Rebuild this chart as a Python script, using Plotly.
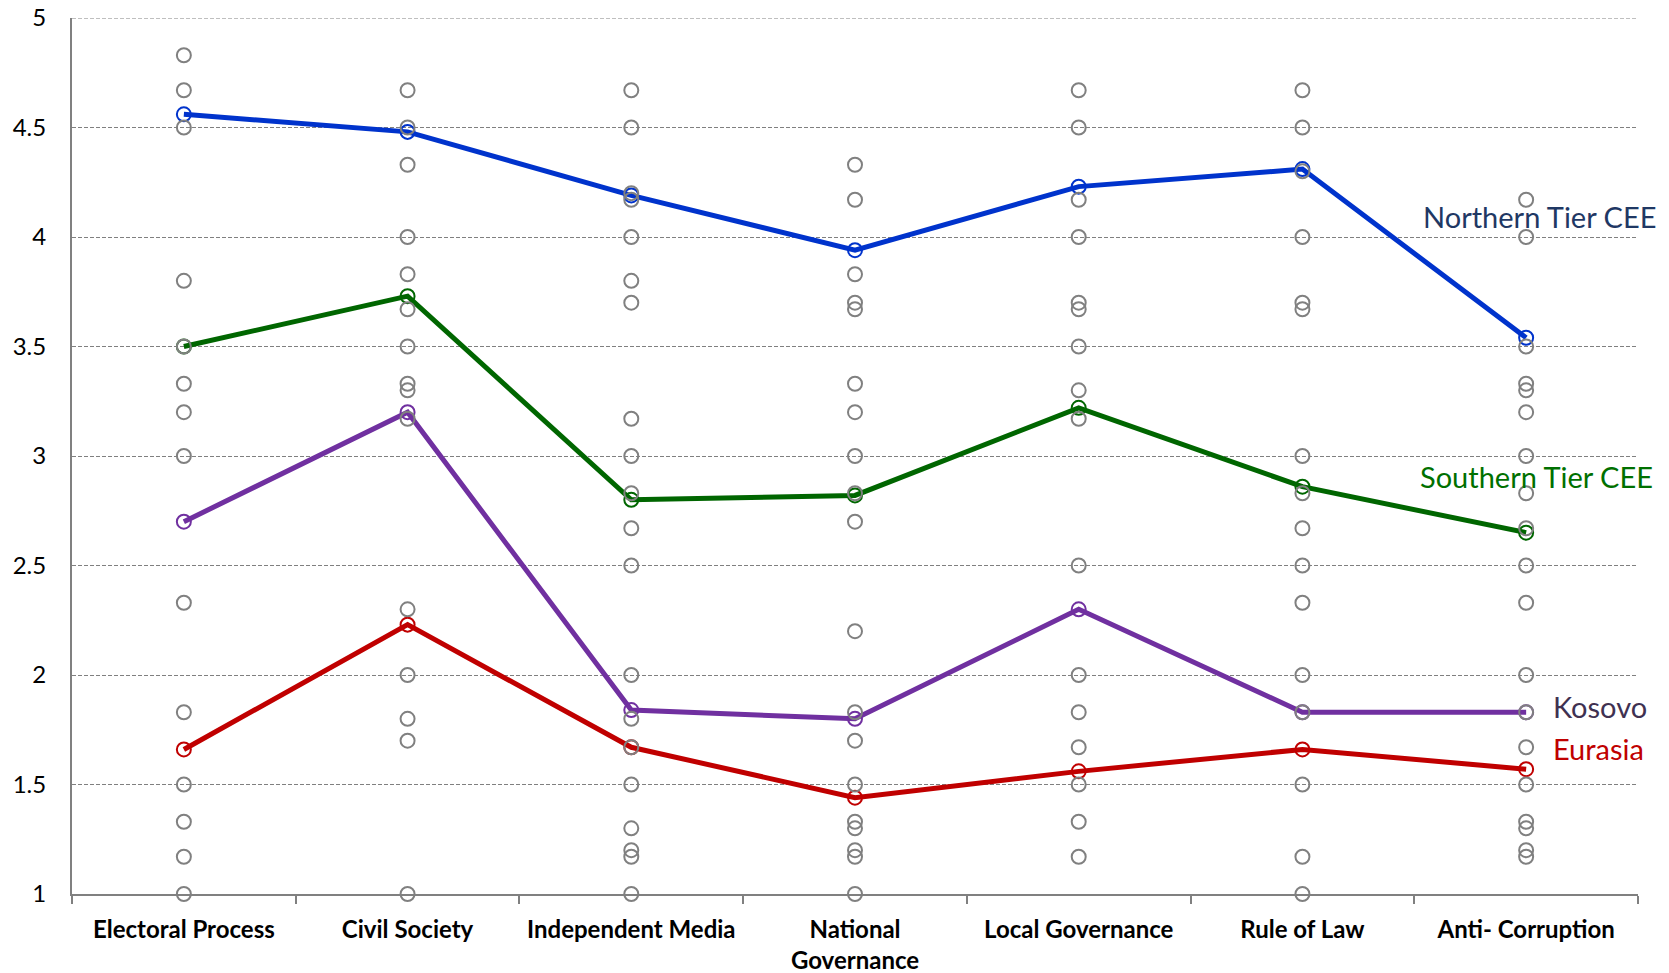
import plotly.graph_objects as go

categories = ["Electoral Process", "Civil Society", "Independent Media",
              "National<br>Governance", "Local Governance", "Rule of Law", "Anti- Corruption"]

# Individual country scores (gray open circles), per category
gray_electoral = [4.83, 4.67, 4.5, 3.8, 3.5, 3.33, 3.2, 3.0, 2.33, 1.83, 1.5, 1.33, 1.17, 1.0]
gray_civil = [4.67, 4.5, 4.33, 4.0, 3.83, 3.67, 3.5, 3.33, 3.3, 3.17, 2.3, 2.0, 1.8, 1.7, 1.0]
gray_media = [4.67, 4.5, 4.2, 4.17, 4.0, 3.8, 3.7, 3.17, 3.0, 2.83, 2.67, 2.5, 2.0, 1.8, 1.67,
              1.5, 1.3, 1.2, 1.17, 1.0]
gray_national = [4.33, 4.17, 3.83, 3.7, 3.67, 3.33, 3.2, 3.0, 2.83, 2.7, 2.2, 1.83, 1.7, 1.5,
                 1.33, 1.3, 1.2, 1.17, 1.0]
gray_local = [4.67, 4.5, 4.17, 4.0, 3.7, 3.67, 3.5, 3.3, 3.17, 2.5, 2.0, 1.83, 1.67, 1.5, 1.33, 1.17]
gray_law = [4.67, 4.5, 4.3, 4.0, 3.7, 3.67, 3.0, 2.83, 2.67, 2.5, 2.33, 2.0, 1.83, 1.5, 1.17, 1.0]
gray_anticorr = [4.17, 4.0, 3.5, 3.33, 3.3, 3.2, 3.0, 2.83, 2.67, 2.5, 2.33, 2.0, 1.83, 1.67, 1.5,
                 1.33, 1.3, 1.2, 1.17]

# Group averages
northern = [4.56, 4.48, 4.19, 3.94, 4.23, 4.31, 3.54]
southern = [3.50, 3.73, 2.80, 2.82, 3.22, 2.86, 2.65]
kosovo = [2.70, 3.20, 1.84, 1.80, 2.30, 1.83, 1.83]
eurasia = [1.66, 2.23, 1.67, 1.44, 1.56, 1.66, 1.57]

y_ticks = [1, 1.5, 2, 2.5, 3, 3.5, 4, 4.5, 5]
y_tick_text = ["1", "1.5", "2", "2.5", "3", "3.5", "4", "4.5", "5"]

FONT = "Lato"
fig = go.Figure()

series = [
    ("Northern Tier CEE", northern, "#0033CC"),
    ("Southern Tier CEE", southern, "#006600"),
    ("Kosovo", kosovo, "#7030A0"),
    ("Eurasia", eurasia, "#C00000"),
]
for name, vals, col in series:
    fig.add_trace(go.Scatter(
        x=categories, y=vals, name=name, mode="lines+markers",
        line=dict(color=col, width=5),
        marker=dict(symbol="circle-open", size=14, color=col, line=dict(width=2, color=col)),
        cliponaxis=False, showlegend=False))

gray_all = [gray_electoral, gray_civil, gray_media, gray_national, gray_local, gray_law, gray_anticorr]
gx, gy = [], []
for cat, vals in zip(categories, gray_all):
    gx += [cat] * len(vals)
    gy += vals
fig.add_trace(go.Scatter(
    x=gx, y=gy, mode="markers",
    marker=dict(symbol="circle-open", size=14, color="#808080", line=dict(width=2, color="#808080")),
    cliponaxis=False, showlegend=False))

labels = [
    ("Northern Tier CEE", 1.0128, 4.093, "right", "#1F3864"),
    ("Southern Tier CEE", 1.0110, 2.907, "right", "#007000"),
    ("Kosovo", 0.9443, 1.857, "left", "#3F3151"),
    ("Eurasia", 0.9443, 1.663, "left", "#C00000"),
]
for text, x, y, anchor, col in labels:
    fig.add_annotation(text=text, x=x, y=y, xref="paper", yref="y", xanchor=anchor,
                       yanchor="middle", showarrow=False,
                       font=dict(family=FONT, size=29, color=col))

# top gridline at the upper range edge (Plotly omits grid lines on the plot border)
fig.add_shape(type="line", xref="paper", x0=0, x1=1, yref="y", y0=5, y1=5,
              line=dict(color="#808080", width=1, dash="4px,2px"), layer="below")

fig.update_layout(
    width=1669, height=973,
    margin=dict(l=72, r=31, t=18, b=79),
    paper_bgcolor="white", plot_bgcolor="white",
    font=dict(family=FONT, color="black"),
)
fig.update_xaxes(
    type="category", range=[-0.5, 6.5], automargin=False,
    showline=True, linecolor="#808080", linewidth=2,
    ticks="outside", tickson="boundaries", ticklen=8, tickwidth=2, tickcolor="#808080",
    showgrid=False, zeroline=False,
    tickfont=dict(family=FONT, size=24, color="black", weight="bold"),
    ticklabelstandoff=13, ticklabeloverflow="allow",
)
fig.update_yaxes(
    range=[1, 5], tickvals=y_ticks, ticktext=y_tick_text, automargin=False,
    showline=True, linecolor="#808080", linewidth=2,
    showgrid=True, gridcolor="#808080", gridwidth=1, griddash="4px,2px",
    zeroline=False, ticks="",
    tickfont=dict(family=FONT, size=24, color="black"),
    ticklabelstandoff=19, ticklabeloverflow="allow",
)

fig.write_html("out.html", config={"displayModeBar": False},
               post_script="document.body.style.margin='0';document.body.style.overflow='hidden';")
